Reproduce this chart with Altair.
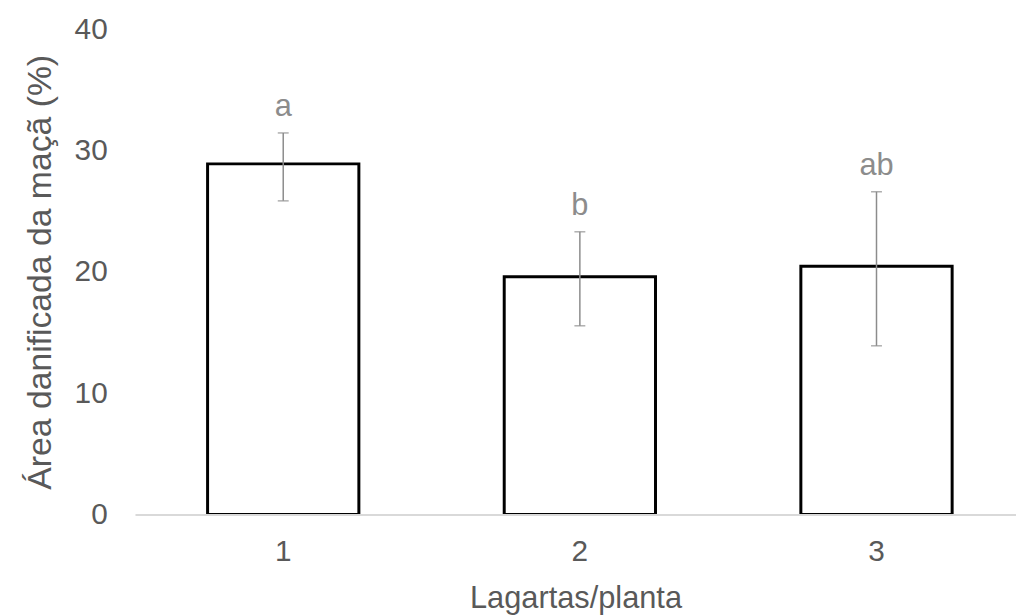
import altair as alt
import pandas as pd

cats = ["1", "2", "3"]
means = [28.9, 19.6, 20.45]
lower = [25.85, 15.55, 13.9]
upper = [31.45, 23.3, 26.6]
letters = ["a", "b", "ab"]

df = pd.DataFrame({"cat": cats, "mean": means, "lo": lower, "hi": upper, "letter": letters})

FONT = "Liberation Sans"
TXT = "#595959"

x = alt.X("cat:N", sort=cats, title="Lagartas/planta",
          scale=alt.Scale(paddingInner=0.49, paddingOuter=0.23, align=0.532),
          axis=alt.Axis(labelAngle=0, ticks=False, domainColor="#d9d9d9", domainWidth=2,
                        labelFontSize=30, labelColor=TXT, labelFont=FONT, labelPadding=22,
                        titleFontSize=31, titleColor=TXT, titleFont=FONT, titleFontWeight="normal",
                        titlePadding=18, zindex=1))

y = alt.Y("mean:Q", title="Área danificada da maçã (%)",
          scale=alt.Scale(domain=[0, 40], nice=False),
          axis=alt.Axis(values=[0, 10, 20, 30, 40], grid=False, domain=False, ticks=False,
                        labelFontSize=30, labelColor=TXT, labelFont=FONT, labelPadding=28,
                        titleFontSize=34, titleColor=TXT, titleFont=FONT, titleFontWeight="normal",
                        titlePadding=17))

base = alt.Chart(df)

bars = base.mark_bar(fill="white", stroke="black", strokeWidth=3).encode(x=x, y=y)

rules = base.mark_rule(color="#8c8c8c", strokeWidth=1.5).encode(
    x=alt.X("cat:N", sort=cats), y="lo:Q", y2="hi:Q")

caps_hi = base.mark_tick(color="#8c8c8c", thickness=1.5, size=11, orient="horizontal").encode(
    x=alt.X("cat:N", sort=cats), y="hi:Q")
caps_lo = base.mark_tick(color="#8c8c8c", thickness=1.5, size=11, orient="horizontal").encode(
    x=alt.X("cat:N", sort=cats), y="lo:Q")

labels = base.mark_text(color="#8c8c8c", fontSize=31, font=FONT, baseline="bottom", dy=-10).encode(
    x=alt.X("cat:N", sort=cats), y="hi:Q", text="letter:N")

chart = alt.layer(bars, rules, caps_hi, caps_lo, labels).properties(
    width=888, height=489,
    autosize=alt.AutoSizeParams(type="none"),
    padding={"left": 128, "top": 19, "right": 0, "bottom": 99},
).configure_view(stroke=None)

chart.save("out.html", embed_options={"renderer": "svg", "actions": False})
